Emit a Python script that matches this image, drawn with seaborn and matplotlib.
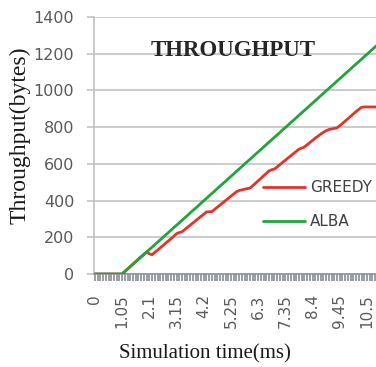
import matplotlib
matplotlib.use("Agg")
import matplotlib.pyplot as plt
from matplotlib.lines import Line2D
import pandas as pd
import seaborn as sns

# Throughput (bytes) per simulation slot of 0.105 ms
greedy = [0, 0, 0, 0, 0, 0, 0, 0, 0, 0, 0,
          14, 28, 41, 55, 68, 82, 95, 108, 120,
          110, 105,
          118, 130, 143, 155, 168, 180, 193, 206, 220,
          226, 230,
          242, 254, 266, 278, 290, 302, 314, 326, 338,
          339, 340,
          352, 364, 376, 388, 400, 412, 424, 436, 448,
          455, 458, 462, 465, 468,
          481, 494, 508, 521, 535, 548, 562,
          568, 572,
          584, 596, 608, 620, 632, 644, 656, 668, 680,
          686, 692,
          704, 716, 728, 740, 751, 762, 772, 781, 787, 790,
          793, 796,
          808, 820, 833, 846, 859, 872, 885, 897, 908,
          910, 910, 910, 910, 910, 910, 910]

alba = [0, 0, 0, 0, 0, 0, 0, 0, 0, 0, 0,
        13, 27, 40, 53, 67, 80, 93, 106, 120, 133,
        146, 160, 173, 186, 200, 213, 226, 239, 253, 266,
        279, 293, 306, 319, 333, 346, 359, 372, 386, 399,
        412, 426, 439, 452, 466, 479, 492, 505, 519, 532,
        545, 559, 572, 585, 599, 612, 625, 638, 652, 665,
        678, 692, 705, 718, 732, 745, 758, 771, 785, 798,
        811, 825, 838, 851, 865, 878, 891, 904, 918, 931,
        944, 958, 971, 984, 998, 1011, 1024, 1037, 1051, 1064,
        1077, 1091, 1104, 1117, 1131, 1144, 1157, 1170, 1184, 1197,
        1210, 1224, 1237, 1250, 1264]

time_labels = ["0", "1.05", "2.1", "3.15", "4.2", "5.25", "6.3",
               "7.35", "8.4", "9.45", "10.5"]
label_every = 10
y_ticks = [0, 200, 400, 600, 800, 1000, 1200, 1400]

series_names = ["GREEDY", "ALBA"]
colors = {"GREEDY": "#e2342b", "ALBA": "#22a33c"}

n = len(alba)
slots = list(range(n))
df = pd.DataFrame({
    "slot": slots + slots,
    "Throughput": greedy + alba,
    "Scheme": ["GREEDY"] * n + ["ALBA"] * n,
})

sns.set_style("white")
plt.rcParams["font.family"] = ["DejaVu Sans"]

W, H = 376, 367
fig = plt.figure(figsize=(W / 100, H / 100), dpi=100)
left_px, bottom_px, top_px = 93.6, 274, 17
slot_px = 2.72
ax_w = n * slot_px
ax = fig.add_axes([left_px / W, (H - bottom_px) / H, ax_w / W, (bottom_px - top_px) / H])

sns.lineplot(data=df, x="slot", y="Throughput", hue="Scheme",
             hue_order=series_names, palette=colors, linewidth=2.0,
             legend=False, ax=ax, zorder=3)

ax.set_xlim(-0.5, n - 0.5)
ax.set_ylim(0, 1400)
ax.set_yticks(y_ticks)
ax.set_yticklabels([str(v) for v in y_ticks])
ax.yaxis.grid(True, color="#bdbdbd", linewidth=1.1)
ax.xaxis.grid(False)
ax.set_axisbelow(True)

major = [i * label_every for i in range(len(time_labels))]
ax.set_xticks(major)
ax.set_xticklabels(time_labels, rotation=90, va="top", ha="center")
ax.set_xticks([i for i in slots if i % label_every != 0], minor=True)

ax.tick_params(axis="y", which="both", length=5.0, width=1.1, color="#bdbdbd",
               labelsize=11.5, labelcolor="#5a5a5a", pad=9.0, left=True)
ax.tick_params(axis="x", which="both", length=5.0, width=1.1, color="#7f8590",
               labelsize=11, labelcolor="#5a5a5a", pad=9.5, bottom=True)

for side in ("top", "right"):
    ax.spines[side].set_visible(False)
ax.spines["left"].set_color("#bdbdbd")
ax.spines["left"].set_linewidth(1.1)
ax.spines["bottom"].set_color("#8a8f99")
ax.spines["bottom"].set_linewidth(1.1)

serif = ["Liberation Serif", "DejaVu Serif"]
ax.set_xlabel("Simulation time(ms)", family=serif, fontsize=15, color="#1a1a1a")
ax.xaxis.set_label_coords((205 - left_px) / ax_w, (bottom_px - 344) / (bottom_px - top_px))
ax.set_ylabel("Throughput(bytes)", family=serif, fontsize=17, color="#1a1a1a")
ax.yaxis.set_label_coords((31 - left_px) / ax_w, (bottom_px - 135) / (bottom_px - top_px))

fig.text(233 / W, 1 - 51 / H, "THROUGHPUT", family=serif, fontweight="bold",
         fontsize=16.5, color="#262626", ha="center", va="center")

handles = [Line2D([], [], color=colors[s], linewidth=2.0) for s in series_names]
leg = ax.legend(handles, series_names, loc="upper left",
                bbox_to_anchor=(263 / W, 1 - 180 / H), bbox_transform=fig.transFigure,
                frameon=False, fontsize=11, handlelength=2.75, handletextpad=0.35,
                labelspacing=1.25, borderpad=0, borderaxespad=0)
for t in leg.get_texts():
    t.set_color("#404040")

fig.savefig("out.png", dpi=100)
